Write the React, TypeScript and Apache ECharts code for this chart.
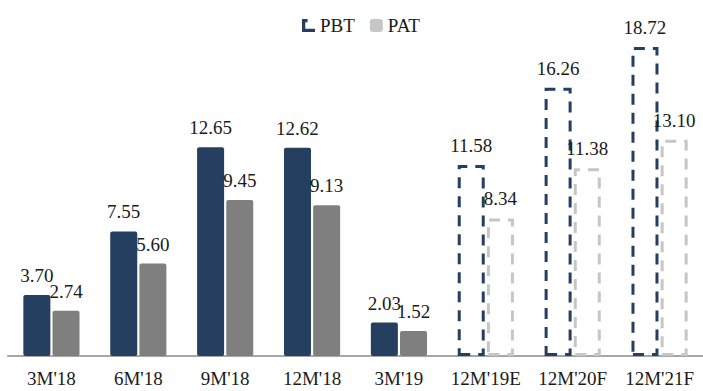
import React, { useEffect, useRef } from "react";
import * as echarts from "echarts";

// Periods on the x axis; the last three are estimates / forecasts
const periods = ["3M'18", "6M'18", "9M'18", "12M'18", "3M'19", "12M'19E", "12M'20F", "12M'21F"];
const isForecast = [false, false, false, false, false, true, true, true];

// Profit before tax and profit after tax
const pbtValues = [3.7, 7.55, 12.65, 12.62, 2.03, 11.58, 16.26, 18.72];
const patValues = [2.74, 5.6, 9.45, 9.13, 1.52, 8.34, 11.38, 13.1];

const NAVY = "#243f60";
const GREY = "#7f7f7f";
const LIGHT_GREY = "#c6c6c6";
const FONT = "Liberation Serif";

function buildItems(values: number[], solid: string, dashed: string) {
  return values.map((v, i) =>
    isForecast[i]
      ? {
          value: v,
          itemStyle: {
            color: "rgba(255,255,255,0)",
            borderColor: dashed,
            borderWidth: 3,
            borderType: [11, 8],
            borderRadius: 0,
          },
        }
      : { value: v, itemStyle: { color: solid, borderRadius: 2 } }
  );
}

const labelStyle = {
  show: true,
  position: "top" as const,
  distance: 10,
  fontFamily: FONT,
  fontSize: 19,
  color: "#1a1a1a",
  formatter: (p: any) => Number(p.value).toFixed(2),
};

export default function App() {
  const ref = useRef<HTMLDivElement>(null);

  useEffect(() => {
    document.body.style.margin = "0";
    if (!ref.current) return;
    const chart = echarts.init(ref.current, null, { renderer: "svg" });
    chart.setOption({
      animation: false,
      backgroundColor: "#ffffff",
      textStyle: { fontFamily: FONT },
      legend: {
        top: 11,
        left: 297,
        itemWidth: 13,
        itemHeight: 13,
        itemGap: 15,
        textStyle: { fontFamily: FONT, fontSize: 19, color: "#1a1a1a" },
        data: [
          {
            name: "PBT",
            icon: "path://M0,0 L6,0 L6,3.5 L3.5,3.5 L3.5,10.5 L14,10.5 L14,14 L0,14 Z",
            itemStyle: { color: NAVY, borderWidth: 0 },
          },
          {
            name: "PAT",
            icon: "roundRect",
            itemStyle: { color: LIGHT_GREY, borderWidth: 0 },
          },
        ],
      },
      grid: { left: 8, right: -6, top: 26, bottom: 35 },
      xAxis: {
        type: "category",
        data: periods,
        axisTick: { show: false },
        axisLine: { lineStyle: { color: "#a6a6a6", width: 2 } },
        axisLabel: {
          interval: 0,
          fontFamily: FONT,
          fontSize: 19,
          color: "#1a1a1a",
          margin: 13,
        },
        z: 1,
      },
      yAxis: {
        type: "value",
        min: 0,
        max: 20,
        show: false,
        splitLine: { show: false },
      },
      series: [
        {
          name: "PBT",
          type: "bar",
          barWidth: 27,
          barGap: "8%",
          data: buildItems(pbtValues, NAVY, NAVY),
          label: labelStyle,
          z: 3,
        },
        {
          name: "PAT",
          type: "bar",
          barWidth: 27,
          data: buildItems(patValues, GREY, LIGHT_GREY),
          label: labelStyle,
          z: 3,
        },
      ],
    });
    return () => chart.dispose();
  }, []);

  return <div ref={ref} style={{ width: 703, height: 391 }} />;
}
